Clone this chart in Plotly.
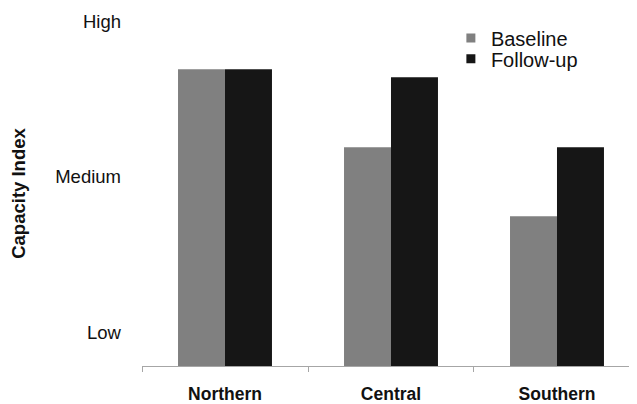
import plotly.graph_objects as go

regions = ["Northern", "Central", "Southern"]
baseline = [2.69, 2.19, 1.745]
follow_up = [2.69, 2.64, 2.19]
level_values = [1, 2, 3]
level_labels = ["Low", "Medium", "High"]

FONT = "Liberation Sans, Arial, sans-serif"
GREY = "#808080"
BLACK = "#161616"
AXIS = "#a6a6a6"
TXT = "#111111"

fig = go.Figure()
fig.add_trace(go.Bar(x=regions, y=baseline, name="Baseline",
                     marker=dict(color=GREY, line=dict(width=0)), showlegend=False))
fig.add_trace(go.Bar(x=regions, y=follow_up, name="Follow-up",
                     marker=dict(color=BLACK, line=dict(width=0)), showlegend=False))
# legend entries with small square swatches
fig.add_trace(go.Scatter(x=[None], y=[None], mode="markers", name="Baseline", legend="legend",
                         marker=dict(symbol="square", size=9, color=GREY)))
fig.add_trace(go.Scatter(x=[None], y=[None], mode="markers", name="Follow-up", legend="legend2",
                         marker=dict(symbol="square", size=9, color=BLACK)))

legend_common = dict(xanchor="left", yanchor="middle",
                     font=dict(size=20, family=FONT, color=TXT),
                     bgcolor="rgba(0,0,0,0)", borderwidth=0)

fig.update_layout(
    width=629, height=396,
    margin=dict(l=134, r=0, t=13, b=36),
    paper_bgcolor="white", plot_bgcolor="white",
    barmode="group", bargap=0.434, bargroupgap=0,
    font=dict(family=FONT, color=TXT, size=17),
    legend=dict(x=0.624, y=0.951, **legend_common),
    legend2=dict(x=0.624, y=0.8905, **legend_common),
    xaxis=dict(
        range=[-0.5, 2.482], showline=True, linecolor=AXIS, linewidth=1,
        ticks="outside", tickson="boundaries", ticklen=5, tickcolor=AXIS,
        showgrid=False, zeroline=False, ticklabelstandoff=12,
        tickfont=dict(size=17.5, weight="bold", family=FONT, color=TXT),
    ),
    yaxis=dict(
        range=[0.783, 3.001], showline=False, showgrid=False, zeroline=False,
        tickvals=level_values, ticktext=level_labels, ticks="",
        ticklabelstandoff=20, automargin=False,
        tickfont=dict(size=18.5, family=FONT, color=TXT),
        title=dict(text="Capacity Index", standoff=24,
                   font=dict(size=18.5, weight="bold", family=FONT, color=TXT)),
    ),
)

fig.write_html("out.html")
